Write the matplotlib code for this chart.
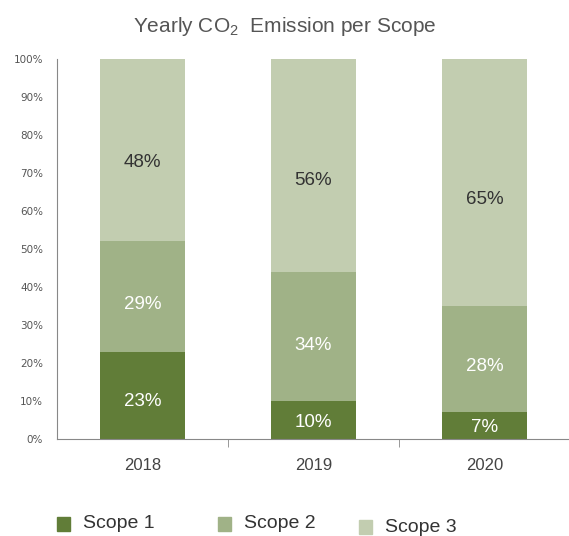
import matplotlib
matplotlib.use("Agg")
import matplotlib.pyplot as plt
from matplotlib.patches import Rectangle
import numpy as np

years = ["2018", "2019", "2020"]
scope1 = [23, 10, 7]
scope2 = [29, 34, 28]
scope3 = [48, 56, 65]
scope_names = ["Scope 1", "Scope 2", "Scope 3"]
colors = ["#617d38", "#a0b287", "#c2cdb0"]
label_colors = ["white", "white", "#333333"]

plt.rcParams["mathtext.fontset"] = "custom"
plt.rcParams["mathtext.rm"] = "Liberation Sans"
plt.rcParams["mathtext.it"] = "Liberation Sans"

fig = plt.figure(figsize=(5.69, 5.36), dpi=100)
ax = fig.add_axes([57 / 569, 97 / 536, 513 / 569, 380 / 536])

x = np.arange(len(years))
bottom = np.zeros(len(years))
for vals, col, tcol in zip([scope1, scope2, scope3], colors, label_colors):
    vals = np.array(vals, dtype=float)
    ax.bar(x, vals, width=0.5, bottom=bottom, color=col, edgecolor="none")
    for xi, b, v in zip(x, bottom, vals):
        ax.text(xi, b + v * 0.43, f"{int(v)}%", ha="center", va="center",
                fontsize=13.5, color=tcol, family="Liberation Sans")
    bottom += vals

ax.set_xlim(-0.5, 2.5)
ax.set_ylim(0, 100)
ax.set_yticks(range(0, 101, 10))
ax.set_yticklabels([f"{t}%" for t in range(0, 101, 10)], fontsize=7.5, color="#555555")
ax.tick_params(axis="y", length=0, pad=10)
ax.set_xticks(x)
ax.set_xticklabels(years, fontsize=12, color="#444444", family="Liberation Sans")
ax.tick_params(axis="x", length=0, pad=14)
ax.set_xticks([0.5, 1.5], minor=True)
ax.tick_params(axis="x", which="minor", length=6, color="#888888")
for s in ["top", "right"]:
    ax.spines[s].set_visible(False)
for s in ["left", "bottom"]:
    ax.spines[s].set_color("#888888")

fig.text(0.5, 1 - 27 / 536, r"Yearly CO$_\mathrm{2}$  Emission per Scope", ha="center", va="center",
         fontsize=15, color="#555555", family="Liberation Sans")

# legend drawn by hand to keep the original spacing
leg_x = [57, 218, 359]
leg_y = [524, 524, 527]
for lx, ly, col, name in zip(leg_x, leg_y, colors, scope_names):
    fig.add_artist(Rectangle((lx / 569, 1 - (ly + 7) / 536), 13 / 569, 14 / 536,
                             transform=fig.transFigure, color=col))
    fig.text((lx + 26) / 569, 1 - ly / 536, name, ha="left", va="center",
             fontsize=14, color="#333333", family="Liberation Sans")

fig.savefig("out.png", dpi=100)
